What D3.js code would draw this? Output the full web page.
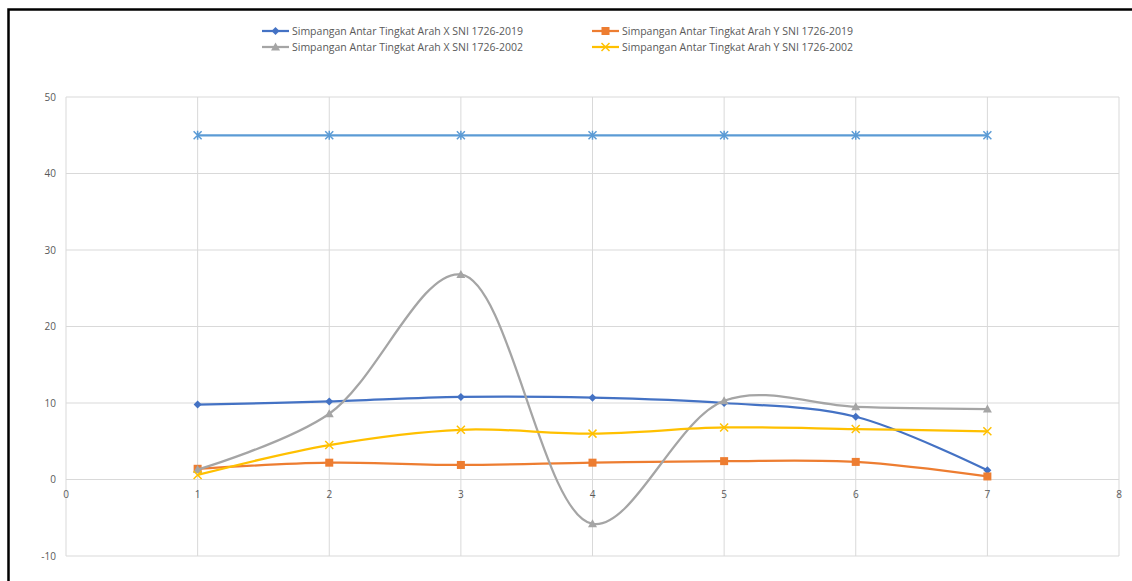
<!DOCTYPE html>
<html><head><meta charset="utf-8">
<script src="https://cdn.jsdelivr.net/npm/d3@7"></script>
<style>body{margin:0;background:#fff}svg{display:block}text{font-family:"Open Sans","Liberation Sans",sans-serif;fill:#595959}</style>
</head><body><svg id="c" width="1132" height="581"></svg>
<script>
const stories = [1,2,3,4,5,6,7];
const xTicks = [0,1,2,3,4,5,6,7,8];
const yTicks = [-10,0,10,20,30,40,50];
const seriesNames = ["Simpangan Antar Tingkat Arah X SNI 1726-2019","Simpangan Antar Tingkat Arah Y SNI 1726-2019","Simpangan Antar Tingkat Arah X SNI 1726-2002","Simpangan Antar Tingkat Arah Y SNI 1726-2002"];
const xSni2019 = [9.8,10.2,10.8,10.7,10.0,8.2,1.2];
const ySni2019 = [1.4,2.2,1.9,2.2,2.4,2.3,0.4];
const xSni2002 = [1.3,8.6,26.8,-5.8,10.3,9.5,9.2];
const ySni2002 = [0.6,4.5,6.5,6.0,6.8,6.6,6.3];
const limitValues = [45,45,45,45,45,45,45];

const colors = ["#4472C4","#ED7D31","#A5A5A5","#FFC000","#5B9BD5"];
const markers = ["diamond","square","triangle","x","star"];
const allSeries = [xSni2019,ySni2019,xSni2002,ySni2002,limitValues];

const svg = d3.select("#c");
const L=66,R=1119,T=97,B=556;
const x = d3.scaleLinear().domain([0,8]).range([L,R]);
const y = d3.scaleLinear().domain([-10,50]).range([B,T]);

// outer border
svg.append("path").attr("d",`M8.5,581 L8.5,9.5 L1132,9.5`).attr("fill","none").attr("stroke","#000").attr("stroke-width",2.5);

// grid
svg.append("g").selectAll("line.h").data(yTicks).join("line")
 .attr("x1",L).attr("x2",R).attr("y1",d=>y(d)).attr("y2",d=>y(d)).attr("stroke","#d9d9d9").attr("stroke-width",1);
svg.append("g").selectAll("line.v").data(xTicks).join("line")
 .attr("y1",T).attr("y2",B).attr("x1",d=>x(d)).attr("x2",d=>x(d)).attr("stroke","#d9d9d9").attr("stroke-width",1);

// y labels
svg.append("g").selectAll("text").data(yTicks).join("text")
 .attr("x",L-10).attr("y",d=>y(d)+3.5).attr("text-anchor","end").attr("font-size",10).text(d=>d);
// x labels (at zero line)
svg.append("g").selectAll("text").data(xTicks).join("text")
 .attr("x",d=>x(d)).attr("y",y(0)+18).attr("text-anchor","middle").attr("font-size",10).text(d=>d);

function marker(g,type,cx,cy,col){
  if(type==="diamond"){g.append("path").attr("d",`M${cx},${cy-4}L${cx+4},${cy}L${cx},${cy+4}L${cx-4},${cy}Z`).attr("fill",col);}
  else if(type==="square"){g.append("rect").attr("x",cx-4).attr("y",cy-4).attr("width",8).attr("height",8).attr("fill",col);}
  else if(type==="triangle"){g.append("path").attr("d",`M${cx},${cy-4.5}L${cx+4.5},${cy+3.5}L${cx-4.5},${cy+3.5}Z`).attr("fill",col);}
  else if(type==="x"){g.append("path").attr("d",`M${cx-4},${cy-4}L${cx+4},${cy+4}M${cx-4},${cy+4}L${cx+4},${cy-4}`).attr("stroke",col).attr("stroke-width",1.5);}
  else if(type==="star"){g.append("path").attr("d",`M${cx-4},${cy-4}L${cx+4},${cy+4}M${cx-4},${cy+4}L${cx+4},${cy-4}M${cx},${cy-4.5}L${cx},${cy+4.5}`).attr("stroke",col).attr("stroke-width",1.5);}
}

const drawOrder=[4,0,1,2,3];
drawOrder.forEach(i=>{
  const vals=allSeries[i];
  const line=d3.line().x((d,k)=>x(stories[k])).y(d=>y(d)).curve(d3.curveCatmullRom.alpha(0.5));
  const g=svg.append("g");
  g.append("path").attr("d",line(vals)).attr("fill","none").attr("stroke",colors[i]).attr("stroke-width",2.25);
  vals.forEach((v,k)=>marker(g,markers[i],x(stories[k]),y(v),colors[i]));
});

// legend
const legPos=[[262,31],[592,31],[262,47],[592,47]];
seriesNames.forEach((n,i)=>{
  const [lx,ly]=legPos[i];
  const g=svg.append("g");
  g.append("line").attr("x1",lx).attr("x2",lx+27).attr("y1",ly).attr("y2",ly).attr("stroke",colors[i]).attr("stroke-width",2.25);
  marker(g,markers[i],lx+13.5,ly,colors[i]);
  g.append("text").attr("x",lx+30).attr("y",ly+3.5).attr("font-size",10).attr("textLength",231).attr("lengthAdjust","spacingAndGlyphs").text(n);
});
</script></body></html>
